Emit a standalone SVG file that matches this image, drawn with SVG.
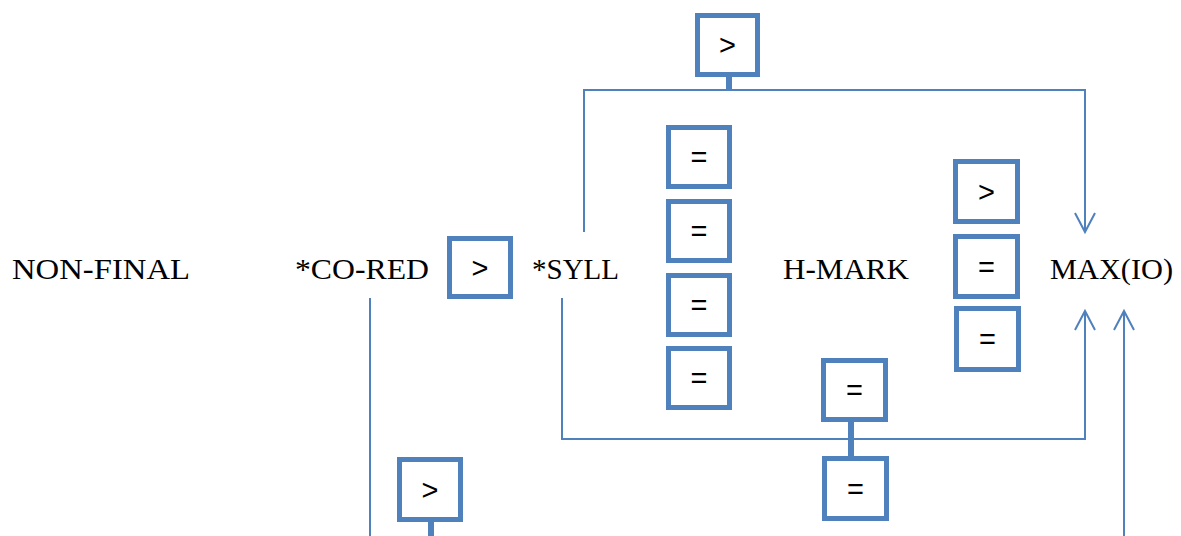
<svg xmlns="http://www.w3.org/2000/svg" width="1181" height="536" viewBox="0 0 1181 536">
  <style>
    .box rect { fill: #ffffff; stroke: #4f81bd; stroke-width: 5; }
    .box text { font-family: "Liberation Sans", Arial, sans-serif; font-size: 29px; fill: #000000; text-anchor: middle; }
    .label { font-family: "Liberation Serif", "Times New Roman", serif; font-size: 29px; fill: #000000; }
    .wire { fill: none; stroke: #4f81bd; stroke-width: 2; }
    .stub { fill: none; stroke: #4f81bd; stroke-width: 6; }
  </style>
  <defs>
    <marker id="openArrow" markerUnits="userSpaceOnUse" markerWidth="24" markerHeight="26" viewBox="-21 -13 24 26" refX="0" refY="0" orient="auto">
      <path d="M-19,-10 L0,0 L-19,10" fill="none" stroke="#4f81bd" stroke-width="2"/>
    </marker>
  </defs>

  <rect width="1181" height="536" fill="#ffffff"/>

  <!-- constraint labels -->
  <g id="non-final"><text class="label" x="12" y="279" textLength="178" lengthAdjust="spacingAndGlyphs">NON-FINAL</text></g>
  <g id="co-red"><text class="label" x="295" y="279" textLength="134" lengthAdjust="spacingAndGlyphs">*CO-RED</text></g>
  <g id="syll"><text class="label" x="532" y="279" textLength="87" lengthAdjust="spacingAndGlyphs">*SYLL</text></g>
  <g id="h-mark"><text class="label" x="783" y="279" textLength="126" lengthAdjust="spacingAndGlyphs">H-MARK</text></g>
  <g id="max-io"><text class="label" x="1050" y="279" textLength="123" lengthAdjust="spacingAndGlyphs">MAX(IO)</text></g>

  <!-- connectors -->
  <g id="connectors">
    <!-- *SYLL over MAX(IO) bracket -->
    <path class="wire" d="M584,232 V90 H1085 V232" marker-end="url(#openArrow)"/>
    <!-- *SYLL to MAX(IO) lower bracket -->
    <path class="wire" d="M562,298 V439 H1085 V311" stroke-width="2.5" marker-end="url(#openArrow)"/>
    <!-- *CO-RED line -->
    <path class="wire" d="M370,298 V536"/>
    <!-- long arrow up to MAX(IO) -->
    <path class="wire" d="M1124,536 V311" marker-end="url(#openArrow)"/>
    <!-- stubs joining boxes to lines -->
    <path class="stub" d="M729,77 V91"/>
    <path class="stub" d="M851,422 V456"/>
    <path class="stub" d="M431,522 V536"/>
  </g>

  <!-- ranking boxes -->
  <g id="rank-top" class="box"><rect x="697.5" y="15.5" width="60" height="59"/><text x="727.5" y="55">&gt;</text></g>
  <g id="rank-coRed-syll" class="box"><rect x="449.5" y="238.5" width="61" height="58"/><text x="480" y="278">&gt;</text></g>

  <g id="rank-eq-1" class="box"><rect x="668.5" y="127.5" width="61" height="59"/><text x="699" y="167">=</text></g>
  <g id="rank-eq-2" class="box"><rect x="668.5" y="201.5" width="61" height="59"/><text x="699" y="241">=</text></g>
  <g id="rank-eq-3" class="box"><rect x="668.5" y="275.5" width="61" height="59"/><text x="699" y="315">=</text></g>
  <g id="rank-eq-4" class="box"><rect x="668.5" y="348.5" width="61" height="59"/><text x="699" y="388">=</text></g>

  <g id="rank-right-gt" class="box"><rect x="955.5" y="161.5" width="62" height="60"/><text x="986.5" y="202">&gt;</text></g>
  <g id="rank-right-eq-1" class="box"><rect x="955.5" y="236.5" width="62" height="60"/><text x="986.5" y="277">=</text></g>
  <g id="rank-right-eq-2" class="box"><rect x="956.5" y="308.5" width="62" height="61"/><text x="987.5" y="349">=</text></g>

  <g id="rank-mid-eq" class="box"><rect x="823.5" y="360.5" width="62" height="59"/><text x="854.5" y="400">=</text></g>
  <g id="rank-bottom-eq" class="box"><rect x="824.5" y="458.5" width="62" height="60"/><text x="855.5" y="499">=</text></g>
  <g id="rank-bottom-gt" class="box"><rect x="399.5" y="459.5" width="61" height="60"/><text x="430" y="500">&gt;</text></g>
</svg>
